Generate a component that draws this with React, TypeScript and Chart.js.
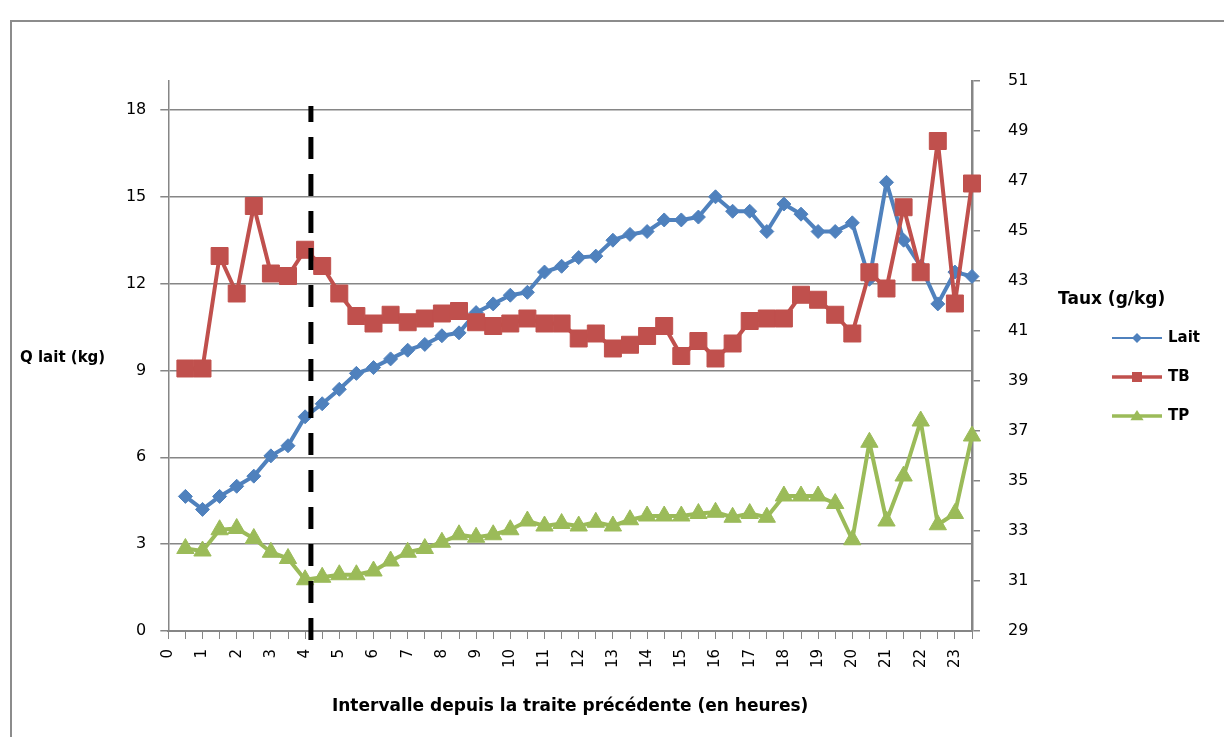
import React, { useEffect, useRef } from 'react';
import { Chart, registerables } from 'chart.js';

Chart.register(...registerables);

// Categories: hours since previous milking (half-hour steps)
const hours = [
  0, 0.5, 1, 1.5, 2, 2.5, 3, 3.5, 4, 4.5, 5, 5.5, 6, 6.5, 7, 7.5,
  8, 8.5, 9, 9.5, 10, 10.5, 11, 11.5, 12, 12.5, 13, 13.5, 14, 14.5, 15, 15.5,
  16, 16.5, 17, 17.5, 18, 18.5, 19, 19.5, 20, 20.5, 21, 21.5, 22, 22.5, 23, 23.5,
];

// Q lait (kg) – left axis
const lait = [
  null, 4.65, 4.2, 4.65, 5.0, 5.35, 6.05, 6.4, 7.4, 7.85, 8.35, 8.9, 9.1, 9.4, 9.7, 9.9,
  10.2, 10.3, 11.0, 11.3, 11.6, 11.7, 12.4, 12.6, 12.9, 12.95, 13.5, 13.7, 13.8, 14.2, 14.2, 14.3,
  15.0, 14.5, 14.5, 13.8, 14.75, 14.4, 13.8, 13.8, 14.1, 12.15, 15.5, 13.5, 12.6, 11.3, 12.4, 12.25,
];

// TB (g/kg) – right axis
const tb = [
  null, 39.5, 39.5, 44.0, 42.5, 46.0, 43.3, 43.2, 44.25, 43.6, 42.5, 41.6, 41.3, 41.65, 41.35, 41.5,
  41.7, 41.8, 41.35, 41.2, 41.3, 41.5, 41.3, 41.3, 40.7, 40.9, 40.3, 40.45, 40.8, 41.2, 40.0, 40.6,
  39.9, 40.5, 41.4, 41.5, 41.5, 42.45, 42.25, 41.65, 40.9, 43.35, 42.7, 45.95, 43.35, 48.6, 42.1, 46.9,
];

// TP (g/kg) – right axis
const tp = [
  null, 32.3, 32.2, 33.05, 33.1, 32.7, 32.15, 31.9, 31.05, 31.15, 31.25, 31.25, 31.4, 31.8, 32.15, 32.3,
  32.55, 32.85, 32.75, 32.85, 33.05, 33.4, 33.2, 33.3, 33.2, 33.35, 33.2, 33.45, 33.6, 33.6, 33.6, 33.7,
  33.75, 33.55, 33.7, 33.55, 34.4, 34.4, 34.4, 34.1, 32.65, 36.55, 33.4, 35.2, 37.4, 33.25, 33.7, 36.8,
];

const seriesNames = ['Lait', 'TB', 'TP'];
const leftAxisTitle = 'Q lait (kg)';
const rightAxisTitle = 'Taux (g/kg)';
const xAxisTitle = 'Intervalle depuis la traite précédente (en heures)';
const leftMin = 0;
const leftMax = 19;
const leftStep = 3;
const rightMin = 29;
const rightMax = 51;
const rightStep = 2;
const markerHour = 4.17; // dashed reference line
const markerTop = 50; // right-axis value where the dashed line starts

const BLUE = '#4F81BD';
const RED = '#C0504D';
const GREEN = '#9BBB59';
const GRID = '#868686';
const FONT = "'DejaVu Sans', Verdana, sans-serif";

function drawMarker(ctx: CanvasRenderingContext2D, style: string, x: number, y: number, s: number, color: string) {
  ctx.save();
  ctx.fillStyle = color;
  ctx.beginPath();
  if (style === 'diamond') {
    ctx.moveTo(x, y - s);
    ctx.lineTo(x + s, y);
    ctx.lineTo(x, y + s);
    ctx.lineTo(x - s, y);
  } else if (style === 'square') {
    ctx.rect(x - s, y - s, 2 * s, 2 * s);
  } else {
    ctx.moveTo(x, y - s);
    ctx.lineTo(x + s * 1.1, y + s * 0.7);
    ctx.lineTo(x - s * 1.1, y + s * 0.7);
  }
  ctx.closePath();
  ctx.fill();
  ctx.restore();
}

const overlayPlugin = {
  id: 'overlay',
  afterDatasetsDraw(chart: any) {
    const { ctx, chartArea, scales } = chart;
    const x = scales.x.getPixelForValue(markerHour * 2);
    const top = scales.y1.getPixelForValue(markerTop);
    ctx.save();
    ctx.strokeStyle = '#000';
    ctx.lineWidth = 5;
    ctx.setLineDash([22, 15]);
    ctx.beginPath();
    ctx.moveTo(x, chartArea.bottom + 9);
    ctx.lineTo(x, top);
    ctx.stroke();
    ctx.restore();
  },
  afterDraw(chart: any) {
    const { ctx } = chart;
    ctx.save();
    ctx.fillStyle = '#000';
    ctx.textBaseline = 'middle';
    ctx.textAlign = 'left';
    ctx.font = `bold 15px ${FONT}`;
    ctx.fillText(leftAxisTitle, 12, 350);
    ctx.font = `bold 17px ${FONT}`;
    ctx.fillText(rightAxisTitle, 1050, 292);

    const rows = [
      { name: seriesNames[0], color: BLUE, style: 'diamond', lw: 2, s: 5 },
      { name: seriesNames[1], color: RED, style: 'square', lw: 3.5, s: 5 },
      { name: seriesNames[2], color: GREEN, style: 'triangle', lw: 3.5, s: 6 },
    ];
    const x1 = 1104;
    const x2 = 1154;
    rows.forEach((r, i) => {
      const y = 330 + i * 39;
      ctx.strokeStyle = r.color;
      ctx.lineWidth = r.lw;
      ctx.beginPath();
      ctx.moveTo(x1, y);
      ctx.lineTo(x2, y);
      ctx.stroke();
      drawMarker(ctx, r.style, (x1 + x2) / 2, y, r.s, r.color);
      ctx.fillStyle = '#000';
      ctx.font = `bold 15px ${FONT}`;
      ctx.fillText(r.name, 1160, y);
    });
    ctx.restore();
  },
};

export default function App() {
  const canvasRef = useRef<HTMLCanvasElement | null>(null);

  useEffect(() => {
    const canvas = canvasRef.current;
    if (!canvas) return;
    const chart = new Chart(canvas, {
      type: 'line',
      data: {
        labels: hours.map((h) => String(h)),
        datasets: [
          {
            label: seriesNames[0],
            data: lait,
            yAxisID: 'y',
            borderColor: BLUE,
            backgroundColor: BLUE,
            borderWidth: 4,
            borderJoinStyle: 'round',
            pointStyle: 'rectRot',
            pointRadius: 7,
            pointBorderWidth: 1,
            pointBackgroundColor: BLUE,
            pointBorderColor: BLUE,
            tension: 0,
            order: 3,
          },
          {
            label: seriesNames[1],
            data: tb,
            yAxisID: 'y1',
            borderColor: RED,
            backgroundColor: RED,
            borderWidth: 4,
            borderJoinStyle: 'round',
            pointStyle: 'rect',
            pointRadius: 12,
            pointBorderWidth: 1,
            pointBackgroundColor: RED,
            pointBorderColor: RED,
            tension: 0,
            order: 2,
          },
          {
            label: seriesNames[2],
            data: tp,
            yAxisID: 'y1',
            borderColor: GREEN,
            backgroundColor: GREEN,
            borderWidth: 4,
            borderJoinStyle: 'round',
            pointStyle: 'triangle',
            pointRadius: 10,
            pointBorderWidth: 1,
            pointBackgroundColor: GREEN,
            pointBorderColor: GREEN,
            tension: 0,
            order: 1,
          },
        ],
      },
      options: {
        animation: false,
        responsive: false,
        maintainAspectRatio: false,
        layout: { padding: { top: 73, left: 0, right: 0, bottom: 0 } },
        plugins: {
          legend: { display: false },
          tooltip: { enabled: false },
        },
        scales: {
          x: {
            type: 'category',
            offset: false,
            grid: {
              display: true,
              drawOnChartArea: false,
              drawTicks: true,
              tickLength: 8,
              color: GRID,
              lineWidth: 1,
            },
            border: { display: true, color: GRID, width: 2 },
            ticks: {
              autoSkip: false,
              maxRotation: 90,
              minRotation: 90,
              padding: 10,
              color: '#000',
              font: { family: FONT, size: 15 },
              callback: (_v: any, idx: number) => (idx % 2 === 0 ? String(hours[idx]) : ''),
            },
            title: {
              display: true,
              text: xAxisTitle,
              color: '#000',
              font: { family: FONT, size: 17, weight: 'bold' },
              padding: { top: 0, bottom: 20 },
            },
            afterFit: (s: any) => {
              s.height = 106;
            },
          },
          y: {
            type: 'linear',
            position: 'left',
            min: leftMin,
            max: leftMax,
            ticks: {
              stepSize: leftStep,
              includeBounds: false,
              padding: 14,
              color: '#000',
              font: { family: FONT, size: 16 },
            },
            grid: { color: GRID, lineWidth: 1.5, tickLength: 8 },
            border: { color: GRID, width: 1.5 },
            afterFit: (s: any) => {
              s.width = 160.3;
            },
          },
          y1: {
            type: 'linear',
            position: 'right',
            min: rightMin,
            max: rightMax,
            ticks: {
              stepSize: rightStep,
              padding: 28,
              color: '#000',
              font: { family: FONT, size: 16 },
            },
            grid: { drawOnChartArea: false, color: GRID, lineWidth: 1.5, tickLength: 8 },
            border: { color: GRID, width: 2.5 },
            afterFit: (s: any) => {
              s.width = 252;
            },
          },
        },
      } as any,
      plugins: [overlayPlugin],
    });
    return () => chart.destroy();
  }, []);

  return (
    <div
      style={{
        position: 'fixed',
        left: 8,
        top: 8,
        width: 1216,
        height: 729,
        overflow: 'hidden',
        background: '#fff',
      }}
    >
      <div
        style={{
          position: 'absolute',
          left: 2,
          top: 12,
          width: 1400,
          height: 900,
          borderLeft: '2px solid #8c8c8c',
          borderTop: '2px solid #8c8c8c',
        }}
      />
      <canvas
        ref={canvasRef}
        width={1216}
        height={729}
        style={{ position: 'absolute', left: 0, top: 0, display: 'block' }}
      />
    </div>
  );
}
